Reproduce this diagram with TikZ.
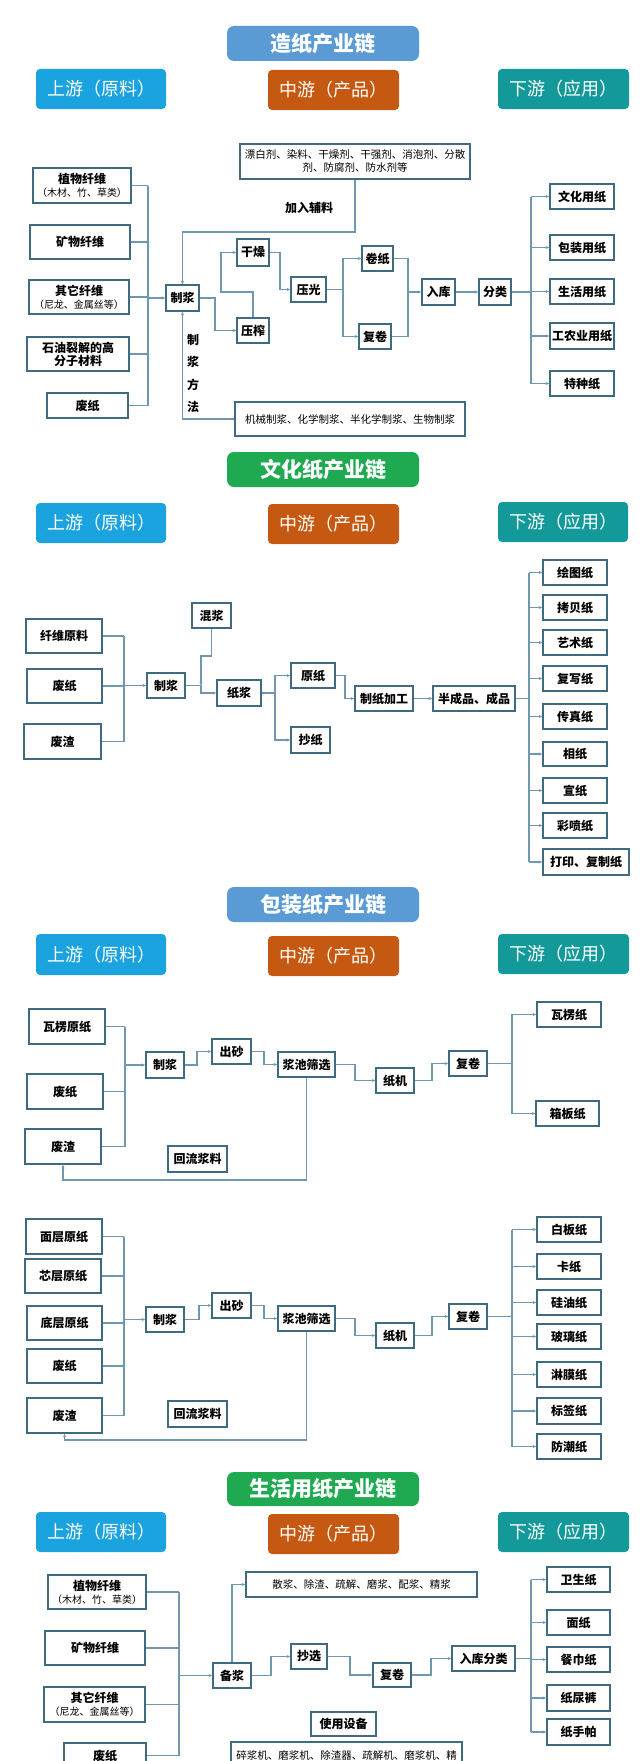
\documentclass[tikz,border=0pt]{standalone}
\usepackage{fontspec}
\setmainfont{Noto Sans CJK SC}
\usetikzlibrary{arrows.meta}
\definecolor{lnc}{HTML}{6F97AF}
\definecolor{bdc}{HTML}{3E6B80}
\definecolor{ttlblue}{HTML}{5B9BD5}
\definecolor{ttlgreen}{HTML}{1FAA52}
\definecolor{upc}{HTML}{1AA3DF}
\definecolor{midc}{HTML}{C65911}
\definecolor{downc}{HTML}{13999A}
\newcommand\bx[7][box]{\node[#1,minimum width={(#5)-(#3)},minimum height={(#6)-(#4)}] (#2) at ({((#3)+(#5))/2},{((#4)+(#6))/2}) {#7};}
\tikzset{
  box/.style={draw=bdc,line width=1.5pt,fill=white,inner sep=0.5pt,align=center,text=black,font=\bfseries\fontsize{12}{13}\selectfont},
  plainbox/.style={draw=bdc,line width=1.5pt,fill=white,inner sep=0.5pt,align=center,text=black,font=\fontsize{10.5}{13}\selectfont},
  title/.style={rounded corners=7pt,inner sep=0pt,text=white,font=\bfseries\fontsize{21}{24}\selectfont},
  hdr/.style={rounded corners=4pt,inner sep=0pt,text=white,font=\fontsize{18}{20}\selectfont},
  lbl/.style={inner sep=0pt,text=black,align=center,font=\bfseries\fontsize{12}{13}\selectfont},
  ln/.style={draw=lnc,line width=1.2pt},
  arr/.style={ln,-{Stealth[length=3.5pt,width=3pt]}},
}
\newcommand\smtxt{\mdseries\fontsize{10}{12}\selectfont}
\begin{document}
\begin{tikzpicture}[x=1pt,y=-1pt]
\useasboundingbox (0,0) rectangle (640,1761);
\fill[white] (0,0) rectangle (640,1761);

% ================= Section 1 =================
\bx[title,fill=ttlblue]{t1}{227}{26}{419}{61}{造纸产业链}
\bx[hdr,fill=upc]{u1}{36}{69}{166}{109}{上游（原料）}
\bx[hdr,fill=midc]{m1}{268}{70}{399}{110}{中游（产品）}
\bx[hdr,fill=downc]{dd1}{498}{69}{629}{109}{下游（应用）}
\bx[plainbox]{add}{240}{144}{470}{179}{漂白剂、染料、干燥剂、干强剂、消泡剂、分散\\剂、防腐剂、防水剂等}
\node[lbl] (jr) at (309,208) {加入辅料};
\bx{s1a}{33}{168}{131}{203}{植物纤维\\{\smtxt（木材、竹、草类）}}
\bx{s1b}{30}{225}{130}{259}{矿物纤维}
\bx{s1c}{29}{280}{129}{314}{其它纤维\\{\smtxt（尼龙、金属丝等）}}
\bx{s1d}{27}{337}{129}{371}{石油裂解的高\\分子材料}
\bx{s1e}{47}{393}{128}{418}{废纸}
\bx{zj1}{166}{285}{199}{311}{制浆}
\bx{gz}{237}{239}{269}{266}{干燥}
\bx{yz}{237}{318}{269}{343}{压榨}
\bx{yg}{291}{277}{326}{302}{压光}
\bx{jz}{362}{246}{393}{271}{卷纸}
\bx{fj1}{359}{324}{391}{349}{复卷}
\bx{rk}{422}{279}{455}{305}{入库}
\bx{fl}{479}{279}{511}{305}{分类}
\bx{d1a}{550}{184}{614}{209}{文化用纸}
\bx{d1b}{550}{235}{614}{260}{包装用纸}
\bx{d1c}{550}{279}{614}{304}{生活用纸}
\bx{d1d}{550}{323}{614}{349}{工农业用纸}
\bx{d1e}{550}{371}{614}{396}{特种纸}
\bx[plainbox]{mth}{235}{402}{465}{436}{机械制浆、化学制浆、半化学制浆、生物制浆}
\node[lbl,font=\bfseries\fontsize{12}{22.3}\selectfont] (zjff) at (193,373.5) {制\\浆\\方\\法};

\coordinate (b1) at (148,0);
\foreach \n in {s1a,s1b,s1c,s1d,s1e} \draw[ln] (\n.east) -- (\n.east -| b1);
\draw[ln] (s1a.east -| b1) -- (s1e.east -| b1);
\draw[arr] (zj1.west -| b1) -- (zj1.west);
\coordinate (ad1) at (355,232);
\draw[arr] (add.south -| ad1) |- (zj1.north |- ad1) -- (zj1.north);
\draw[arr] (mth.west) -| (zj1.south);
\coordinate (sx1) at (215,0);
\draw[arr] (zj1.east) -- (zj1.east -| sx1) |- (yz.west);
\coordinate (sx2) at (221,292);
\draw[arr] (yz.north) |- (sx2) |- (gz.west);
\coordinate (gx) at (280,0);
\draw[arr] (gz.east) -- (gz.east -| gx) |- (yg.west);
\coordinate (yx) at (343,0);
\draw[ln] (yg.east) -- (yg.east -| yx);
\draw[arr] (yg.east -| yx) |- (jz.west);
\draw[arr] (yg.east -| yx) |- (fj1.west);
\coordinate (rx) at (408,0);
\draw[ln] (jz.east) -| (rk.west -| rx);
\draw[ln] (fj1.east) -| (rk.west -| rx);
\draw[arr] (rk.west -| rx) -- (rk.west);
\draw[arr] (rk.east) -- (fl.west);
\coordinate (dx1) at (531,0);
\draw[ln] (fl.east) -- (fl.east -| dx1);
\draw[ln] (d1a.west -| dx1) -- (d1e.west -| dx1);
\foreach \n in {d1a,d1b,d1c,d1d,d1e} \draw[arr] (\n.west -| dx1) -- (\n.west);

% ================= Section 2 =================
\bx[title,fill=ttlgreen]{t2}{227}{452}{419}{487}{文化纸产业链}
\bx[hdr,fill=upc]{u2}{36}{503}{166}{543}{上游（原料）}
\bx[hdr,fill=midc]{m2}{268}{504}{399}{544}{中游（产品）}
\bx[hdr,fill=downc]{dd2}{498}{502}{628}{542}{下游（应用）}
\bx{s2a}{26}{619}{102}{653}{纤维原料}
\bx{s2b}{27}{669}{102}{703}{废纸}
\bx{s2c}{24}{724}{101}{759}{废渣}
\bx{zj2}{147}{673}{185}{698}{制浆}
\bx{hj}{192}{603}{231}{628}{混浆}
\bx{zjj}{217}{680}{261}{706}{纸浆}
\bx{yzh}{291}{663}{335}{688}{原纸}
\bx{cz}{291}{727}{330}{753}{抄纸}
\bx{zzjg}{355}{686}{413}{711}{制纸加工}
\bx{bcp}{433}{686}{515}{711}{半成品、成品}
\bx{d2a}{543}{560}{607}{585}{绘图纸}
\bx{d2b}{543}{595}{607}{620}{拷贝纸}
\bx{d2c}{543}{630}{607}{655}{艺术纸}
\bx{d2d}{543}{666}{607}{691}{复写纸}
\bx{d2e}{543}{704}{607}{729}{传真纸}
\bx{d2f}{543}{742}{607}{766}{相纸}
\bx{d2g}{543}{778}{607}{803}{宣纸}
\bx{d2h}{543}{813}{607}{838}{彩喷纸}
\bx{d2i}{543}{849}{629}{875}{打印、复制纸}

\coordinate (b2) at (124,0);
\foreach \n in {s2a,s2b,s2c} \draw[ln] (\n.east) -- (\n.east -| b2);
\draw[ln] (s2a.east -| b2) -- (s2c.east -| b2);
\draw[arr] (zj2.west -| b2) -- (zj2.west);
\coordinate (x2a) at (201,656);
\draw[arr] (zj2.east) -- (zj2.east -| x2a) |- (zjj.west);
\draw[arr] (hj.south) |- (x2a) -- (zj2.east -| x2a);
\coordinate (x2b) at (275,0);
\draw[ln] (zjj.east) -- (zjj.east -| x2b);
\draw[arr] (zjj.east -| x2b) |- (yzh.west);
\draw[arr] (zjj.east -| x2b) |- (cz.west);
\coordinate (x2c) at (345,0);
\draw[arr] (yzh.east) -- (yzh.east -| x2c) |- (zzjg.west);
\draw[arr] (zzjg.east) -- (bcp.west);
\coordinate (dx2) at (529,0);
\draw[ln] (bcp.east) -- (bcp.east -| dx2);
\draw[ln] (d2a.west -| dx2) -- (d2i.west -| dx2);
\foreach \n in {d2a,d2b,d2c,d2d,d2e,d2f,d2g,d2h,d2i} \draw[arr] (\n.west -| dx2) -- (\n.west);

% ================= Section 3a =================
\bx[title,fill=ttlblue]{t3}{227}{887}{419}{922}{包装纸产业链}
\bx[hdr,fill=upc]{u3}{36}{934}{166}{975}{上游（原料）}
\bx[hdr,fill=midc]{m3}{268}{936}{399}{976}{中游（产品）}
\bx[hdr,fill=downc]{dd3}{498}{934}{629}{974}{下游（应用）}
\bx{s3a}{29}{1009}{105}{1044}{瓦楞原纸}
\bx{s3b}{27}{1074}{103}{1109}{废纸}
\bx{s3c}{25}{1129}{101}{1164}{废渣}
\bx{zj3}{146}{1052}{184}{1078}{制浆}
\bx{cs3}{212}{1039}{251}{1064}{出砂}
\bx{jc3}{278}{1052}{335}{1077}{浆池筛选}
\bx{zjj3}{376}{1068}{414}{1093}{纸机}
\bx{fj3}{449}{1051}{487}{1076}{复卷}
\bx{d3a}{537}{1002}{601}{1027}{瓦楞纸}
\bx{d3b}{536}{1101}{599}{1126}{箱板纸}
\bx{hl3}{168}{1146}{227}{1172}{回流浆料}

\coordinate (b3) at (125,0);
\foreach \n in {s3a,s3b,s3c} \draw[ln] (\n.east) -- (\n.east -| b3);
\draw[ln] (s3a.east -| b3) -- (s3c.east -| b3);
\draw[arr] (zj3.west -| b3) -- (zj3.west);
\coordinate (x3a) at (197,0);
\draw[arr] (zj3.east) -- (zj3.east -| x3a) |- (cs3.west);
\coordinate (x3b) at (264,0);
\draw[arr] (cs3.east) -- (cs3.east -| x3b) |- (jc3.west);
\coordinate (x3c) at (355,0);
\draw[arr] (jc3.east) -- (jc3.east -| x3c) |- (zjj3.west);
\coordinate (x3d) at (432,0);
\draw[arr] (zjj3.east) -- (zjj3.east -| x3d) |- (fj3.west);
\coordinate (dx3) at (512,0);
\draw[ln] (fj3.east) -- (fj3.east -| dx3);
\draw[arr] (fj3.east -| dx3) |- (d3a.west);
\draw[arr] (fj3.east -| dx3) |- (d3b.west);
\coordinate (r3) at (0,1180);
\draw[arr] (jc3.south) -- (jc3.south |- r3) -| (s3c.south);

% ================= Section 3b =================
\bx{s3d}{26}{1219}{102}{1254}{面层原纸}
\bx{s3e}{25}{1259}{101}{1293}{芯层原纸}
\bx{s3f}{27}{1306}{102}{1340}{底层原纸}
\bx{s3g}{27}{1349}{102}{1383}{废纸}
\bx{s3h}{27}{1398}{102}{1433}{废渣}
\bx{zj4}{146}{1307}{184}{1332}{制浆}
\bx{cs4}{212}{1293}{251}{1318}{出砂}
\bx{jc4}{278}{1306}{335}{1331}{浆池筛选}
\bx{zjj4}{376}{1323}{414}{1348}{纸机}
\bx{fj4}{449}{1304}{487}{1329}{复卷}
\bx{d4a}{537}{1217}{601}{1242}{白板纸}
\bx{d4b}{537}{1254}{601}{1279}{卡纸}
\bx{d4c}{537}{1290}{601}{1315}{硅油纸}
\bx{d4d}{537}{1324}{601}{1349}{玻璃纸}
\bx{d4e}{537}{1362}{601}{1387}{淋膜纸}
\bx{d4f}{537}{1398}{601}{1424}{标签纸}
\bx{d4g}{537}{1434}{601}{1459}{防潮纸}
\bx{hl4}{168}{1401}{227}{1427}{回流浆料}

\coordinate (b4) at (124,0);
\foreach \n in {s3d,s3e,s3f,s3g,s3h} \draw[ln] (\n.east) -- (\n.east -| b4);
\draw[ln] (s3d.east -| b4) -- (s3h.east -| b4);
\draw[arr] (zj4.west -| b4) -- (zj4.west);
\coordinate (x4a) at (199,0);
\draw[arr] (zj4.east) -- (zj4.east -| x4a) |- (cs4.west);
\coordinate (x4b) at (264,0);
\draw[arr] (cs4.east) -- (cs4.east -| x4b) |- (jc4.west);
\coordinate (x4c) at (355,0);
\draw[arr] (jc4.east) -- (jc4.east -| x4c) |- (zjj4.west);
\coordinate (x4d) at (432,0);
\draw[arr] (zjj4.east) -- (zjj4.east -| x4d) |- (fj4.west);
\coordinate (dx4) at (512,0);
\draw[ln] (fj4.east) -- (fj4.east -| dx4);
\draw[ln] (d4a.west -| dx4) -- (d4g.west -| dx4);
\foreach \n in {d4a,d4b,d4c,d4d,d4e,d4f,d4g} \draw[arr] (\n.west -| dx4) -- (\n.west);
\coordinate (r4) at (0,1440);
\draw[arr] (jc4.south) -- (jc4.south |- r4) -| (s3h.south);

% ================= Section 4 =================
\bx[title,fill=ttlgreen]{t4}{227}{1472}{419}{1506}{生活用纸产业链}
\bx[hdr,fill=upc]{u4}{36}{1512}{166}{1552}{上游（原料）}
\bx[hdr,fill=midc]{m4}{268}{1514}{399}{1554}{中游（产品）}
\bx[hdr,fill=downc]{dd4}{498}{1512}{629}{1552}{下游（应用）}
\bx{s5a}{48}{1575}{146}{1609}{植物纤维\\{\smtxt（木材、竹、草类）}}
\bx{s5b}{45}{1631}{145}{1665}{矿物纤维}
\bx{s5c}{44}{1687}{145}{1722}{其它纤维\\{\smtxt（尼龙、金属丝等）}}
\bx{s5d}{64}{1743}{146}{1768}{废纸}
\bx{bj}{213}{1663}{251}{1688}{备浆}
\bx[plainbox]{sj}{246}{1572}{477}{1597}{散浆、除渣、疏解、磨浆、配浆、精浆}
\bx{cx}{291}{1644}{327}{1669}{抄选}
\bx{fj5}{373}{1663}{411}{1687}{复卷}
\bx{rkfl}{452}{1646}{515}{1671}{入库分类}
\bx{d5a}{547}{1567}{610}{1592}{卫生纸}
\bx{d5b}{547}{1610}{610}{1635}{面纸}
\bx{d5c}{547}{1647}{610}{1672}{餐巾纸}
\bx{d5d}{547}{1685}{610}{1711}{纸尿裤}
\bx{d5e}{547}{1719}{610}{1745}{纸手帕}
\bx{sy}{311}{1712}{376}{1736}{使用设备}
\bx[plainbox]{eq}{231}{1742}{462}{1790}{}
\node[inner sep=0pt,text=black,font=\fontsize{10.5}{13}\selectfont] (eqt) at (346.5,1755) {碎浆机、磨浆机、除渣器、疏解机、磨浆机、精};

\coordinate (b5) at (179,0);
\foreach \n in {s5a,s5b,s5c,s5d} \draw[ln] (\n.east) -- (\n.east -| b5);
\draw[ln] (s5a.east -| b5) -- (s5d.east -| b5);
\draw[arr] (bj.west -| b5) -- (bj.west);
\draw[arr] (bj.north) |- (sj.west);
\coordinate (x5a) at (271,0);
\draw[arr] (bj.east) -- (bj.east -| x5a) |- (cx.west);
\coordinate (x5b) at (350,0);
\draw[arr] (cx.east) -- (cx.east -| x5b) |- (fj5.west);
\coordinate (x5c) at (431,0);
\draw[arr] (fj5.east) -- (fj5.east -| x5c) |- (rkfl.west);
\coordinate (dx5) at (531,0);
\draw[ln] (rkfl.east) -- (rkfl.east -| dx5);
\draw[ln] (d5a.west -| dx5) -- (d5e.west -| dx5);
\foreach \n in {d5a,d5b,d5c,d5d,d5e} \draw[arr] (\n.west -| dx5) -- (\n.west);
\end{tikzpicture}
\end{document}
